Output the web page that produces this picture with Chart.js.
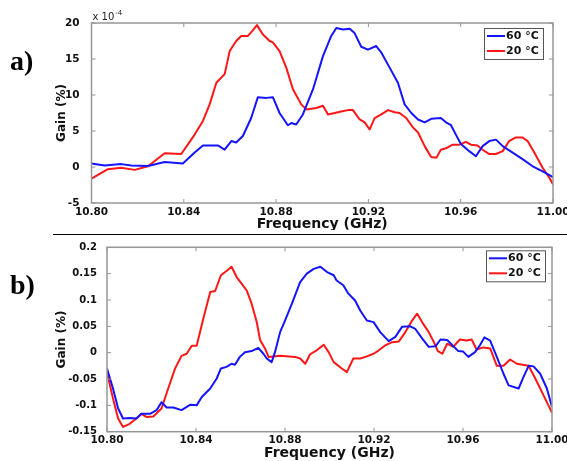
<!DOCTYPE html>
<html><head><meta charset="utf-8">
<script src="https://cdn.jsdelivr.net/npm/chart.js@4.4.0/dist/chart.umd.min.js"></script>
<style>
html,body{margin:0;padding:0;background:#fff;}
#wrap{position:relative;width:567px;height:461px;overflow:hidden;background:#fff;}
canvas{position:absolute;left:0;}
#rule{position:absolute;left:53px;top:234px;width:514px;height:0;border-top:1.5px solid #000;}
.lab{position:absolute;font:bold 28px "Liberation Serif","Times New Roman",serif;line-height:28px;color:#000;}
</style></head>
<body><div id="wrap">
<canvas id="c1" width="567" height="230" style="top:0"></canvas>
<canvas id="c2" width="567" height="230" style="top:231px"></canvas>
<div id="rule"></div>
<div class="lab" style="left:10px;top:47px">a)</div>
<div class="lab" style="left:10px;top:271px">b)</div>
</div>
<script>
// ---- tick labels ----
const freqTicks = [10.80, 10.84, 10.88, 10.92, 10.96, 11.00];
const gainTicksA = [-5, 0, 5, 10, 15, 20];
const gainTicksB = [-0.15, -0.1, -0.05, 0, 0.05, 0.1, 0.15, 0.2];
const seriesLabels = ['60 \u00B0C', '20 \u00B0C'];
const axisTitleX = 'Frequency (GHz)';
const axisTitleY = 'Gain (%)';

// ---- panel a) : 60 °C ----
const freqA60 = [10.800,10.8057,10.8129,10.8172,10.8245,10.8317,10.8396,10.8447,10.8483,10.8548,10.8577,10.8606,10.8627,10.8656,10.8692,10.8721,10.8757,10.8786,10.8815,10.8851,10.8866,10.8887,10.8916,10.8960,10.9003,10.9039,10.9061,10.9090,10.9119,10.9140,10.9169,10.9198,10.9234,10.9256,10.9292,10.9328,10.9357,10.9386,10.9415,10.9444,10.9472,10.9514,10.9536,10.9558,10.9579,10.9601,10.9637,10.9666,10.9695,10.9724,10.9753,10.9782,10.9825,10.9868,10.9912,10.9955,11.000];
const gainA60 = [0.5,0.2,0.4,0.2,0.15,0.7,0.5,2.0,3.0,3.0,2.4,3.6,3.4,4.3,6.8,9.7,9.6,9.7,7.5,5.8,6.1,5.9,7.3,10.8,15.4,18.2,19.3,19.1,19.2,18.6,16.7,16.3,16.8,15.9,13.8,11.7,8.7,7.5,6.6,6.2,6.7,6.8,6.2,5.8,4.5,3.2,2.2,1.5,2.9,3.6,3.8,2.9,2.0,1.1,0.1,-0.6,-1.4];
// ---- panel a) : 20 °C ----
const freqA20 = [10.800,10.8071,10.8129,10.8187,10.8245,10.8317,10.8389,10.8447,10.8483,10.8512,10.8541,10.8577,10.8599,10.8627,10.8649,10.8678,10.8700,10.8717,10.8743,10.8772,10.8786,10.8815,10.8844,10.8873,10.8909,10.8931,10.8974,10.9003,10.9025,10.9054,10.9082,10.9111,10.9133,10.9162,10.9184,10.9205,10.9227,10.9256,10.9285,10.9314,10.9335,10.9364,10.9393,10.9415,10.9444,10.9472,10.9495,10.9514,10.9536,10.9565,10.9594,10.9623,10.9644,10.9673,10.9695,10.9724,10.9753,10.9782,10.9810,10.9839,10.9868,10.9890,10.9919,10.9955,10.9984,11.000];
const gainA20 = [-1.6,-0.3,-0.1,-0.4,0.1,1.9,1.8,4.5,6.4,8.7,11.7,12.9,16.1,17.5,18.2,18.2,19.0,19.7,18.4,17.5,17.3,16.1,13.8,10.8,8.7,8.0,8.2,8.5,7.3,7.5,7.7,7.9,7.9,6.6,6.2,5.2,6.8,7.3,7.9,7.6,7.5,6.8,5.5,4.8,2.9,1.4,1.3,2.4,2.6,3.1,3.1,3.5,3.1,3.0,2.4,1.8,1.8,2.2,3.6,4.1,4.1,3.6,2.0,-0.1,-1.5,-2.4];

// ---- panel b) : 60 °C ----
const freqB60 = [10.800,10.8027,10.8050,10.8072,10.8102,10.8132,10.8155,10.8193,10.8223,10.8245,10.8268,10.8298,10.8335,10.8373,10.8403,10.8426,10.8464,10.8493,10.8512,10.8537,10.8560,10.8575,10.8597,10.8620,10.8650,10.8680,10.8703,10.8718,10.8740,10.8755,10.8778,10.8800,10.8831,10.8868,10.8898,10.8929,10.8959,10.8989,10.9019,10.9032,10.9062,10.9085,10.9115,10.9138,10.9168,10.9198,10.9228,10.9266,10.9296,10.9326,10.9363,10.9386,10.9416,10.9446,10.9476,10.9499,10.9529,10.9579,10.9601,10.9624,10.9654,10.9676,10.9696,10.9722,10.9752,10.9782,10.9805,10.9850,10.9872,10.9895,10.9917,10.9947,10.9977,11.000];
const gainB60 = [-0.030,-0.068,-0.106,-0.125,-0.124,-0.125,-0.116,-0.116,-0.109,-0.094,-0.104,-0.104,-0.109,-0.099,-0.100,-0.084,-0.068,-0.049,-0.030,-0.027,-0.021,-0.023,-0.008,0.001,0.003,0.009,-0.002,-0.011,-0.018,0.001,0.039,0.061,0.093,0.134,0.150,0.159,0.163,0.153,0.147,0.137,0.128,0.112,0.099,0.080,0.061,0.058,0.039,0.022,0.030,0.049,0.050,0.045,0.027,0.011,0.012,0.025,0.024,0.003,0.002,-0.008,0.001,0.014,0.029,0.023,-0.008,-0.040,-0.062,-0.068,-0.046,-0.025,-0.026,-0.040,-0.068,-0.103];
// ---- panel b) : 20 °C ----
const freqB20 = [10.800,10.8027,10.8050,10.8072,10.8102,10.8132,10.8155,10.8177,10.8208,10.8245,10.8275,10.8306,10.8335,10.8358,10.8381,10.8403,10.8433,10.8464,10.8486,10.8512,10.8537,10.8560,10.8582,10.8605,10.8628,10.8650,10.8673,10.8688,10.8710,10.8726,10.8778,10.8846,10.8868,10.8891,10.8913,10.8944,10.8974,10.8996,10.9019,10.9055,10.9078,10.9107,10.9138,10.9168,10.9198,10.9220,10.9251,10.9281,10.9311,10.9341,10.9371,10.9394,10.9416,10.9446,10.9469,10.9487,10.9507,10.9529,10.9556,10.9586,10.9616,10.9639,10.9661,10.9692,10.9722,10.9752,10.9782,10.9812,10.9842,10.9895,10.9925,10.9962,11.000];
const gainB20 = [-0.037,-0.087,-0.125,-0.141,-0.135,-0.125,-0.116,-0.122,-0.121,-0.106,-0.068,-0.030,-0.006,-0.002,0.013,0.013,0.065,0.115,0.117,0.147,0.155,0.163,0.144,0.131,0.118,0.093,0.058,0.024,0.008,-0.008,-0.006,-0.008,-0.011,-0.021,-0.003,0.005,0.015,0.001,-0.018,-0.030,-0.037,-0.011,-0.011,-0.007,-0.002,0.004,0.014,0.020,0.021,0.039,0.061,0.074,0.058,0.039,0.020,0.003,-0.002,0.017,0.011,0.025,0.023,0.025,0.006,0.010,0.008,-0.025,-0.025,-0.013,-0.021,-0.025,-0.049,-0.081,-0.114];

const FONT = '"DejaVu Sans", Arial, sans-serif';
const COL60 = 'rgb(20,20,255)';
const COL20 = 'rgb(255,22,22)';
const FRAME = 'rgb(150,150,150)';

function pts(f, g) { return f.map((x, i) => ({x: x, y: g[i]})); }

const framePlugin = {
  id: 'frame',
  afterDatasetsDraw(chart, args, opts) {
    const ctx = chart.ctx, a = chart.chartArea;
    const xs = chart.scales.x, ys = chart.scales.y;
    ctx.save();
    ctx.strokeStyle = FRAME; ctx.lineWidth = 1.5;
    ctx.strokeRect(a.left, a.top, a.right - a.left, a.bottom - a.top);
    ctx.lineWidth = 1;
    ctx.beginPath();
    xs.ticks.forEach(t => {
      const p = xs.getPixelForValue(t.value);
      ctx.moveTo(p, a.top); ctx.lineTo(p, a.top + 4);
      ctx.moveTo(p, a.bottom); ctx.lineTo(p, a.bottom - 4);
    });
    ys.ticks.forEach(t => {
      const p = ys.getPixelForValue(t.value);
      ctx.moveTo(a.left, p); ctx.lineTo(a.left + 4, p);
      ctx.moveTo(a.right, p); ctx.lineTo(a.right - 4, p);
    });
    ctx.stroke();
    // legend box (inside plot, top-right)
    const w = 59, h = 31;
    const bx = a.right - opts.insetR - w, by = a.top + opts.insetT;
    ctx.fillStyle = '#fff';
    ctx.fillRect(bx, by, w, h);
    ctx.strokeStyle = '#555'; ctx.lineWidth = 1;
    ctx.strokeRect(bx + 0.5, by + 0.5, w, h);
    ctx.font = 'bold 11px ' + FONT;
    ctx.textBaseline = 'middle'; ctx.textAlign = 'left';
    chart.data.datasets.forEach((ds, i) => {
      const yy = by + 8 + i * 15;
      ctx.strokeStyle = ds.borderColor; ctx.lineWidth = 2;
      ctx.beginPath(); ctx.moveTo(bx + 3, yy); ctx.lineTo(bx + 21, yy); ctx.stroke();
      ctx.fillStyle = '#111';
      ctx.fillText(ds.label, bx + 22, yy);
    });
    if (opts.exponent) {
      ctx.fillStyle = '#222';
      ctx.textBaseline = 'alphabetic';
      ctx.font = '10px ' + FONT;
      ctx.fillText('x 10', a.left + 1, a.top - 3);
      const wx = ctx.measureText('x 10').width;
      ctx.font = '7px ' + FONT;
      ctx.fillText('-4', a.left + 1 + wx + 1, a.top - 8);
    }
    ctx.restore();
  }
};

function makeChart(id, c) {
  return new Chart(document.getElementById(id), {
    type: 'line',
    data: {
      datasets: [
        {label: seriesLabels[0], data: pts(c.f60, c.g60), borderColor: COL60, borderWidth: 2, pointRadius: 0, tension: 0, borderJoinStyle: 'round', fill: false},
        {label: seriesLabels[1], data: pts(c.f20, c.g20), borderColor: COL20, borderWidth: 2, pointRadius: 0, tension: 0, borderJoinStyle: 'round', fill: false}
      ]
    },
    options: {
      responsive: false, animation: false, devicePixelRatio: 1,
      layout: {padding: {left: 55, right: c.padR, top: c.padT, bottom: 0}},
      plugins: {
        legend: {display: false}, tooltip: {enabled: false},
        frame: {insetR: c.legR, insetT: c.legT, exponent: c.exponent}
      },
      scales: {
        x: {
          type: 'linear', min: 10.8, max: 11.0,
          grid: {display: false}, border: {display: false},
          afterBuildTicks: s => { s.ticks = freqTicks.map(v => ({value: v})); },
          afterFit: s => { s.height = c.xH; s.paddingLeft = 0; s.paddingRight = 0; },
          ticks: {autoSkip: false, maxRotation: 0, padding: c.xPad, color: '#111',
                  font: {family: FONT, size: 10.5, weight: 'bold'},
                  callback: v => Number(v).toFixed(2)},
          title: {display: true, text: axisTitleX, color: '#111', padding: {top: 0, bottom: c.tPad},
                  font: {family: FONT, size: 14, weight: 'bold'}}
        },
        y: {
          type: 'linear', min: c.yMin, max: c.yMax,
          grid: {display: false}, border: {display: false},
          afterBuildTicks: s => { s.ticks = c.yTicks.map(v => ({value: v})); },
          afterFit: s => { s.width = c.yW; s.paddingTop = 0; s.paddingBottom = 0; },
          ticks: {autoSkip: false, padding: c.yPad, color: '#111',
                  font: {family: FONT, size: c.yFont, weight: 'bold'},
                  callback: v => String(+v.toFixed(2))},
          title: {display: true, text: axisTitleY, color: '#111', padding: {top: 0, bottom: 0},
                  font: {family: FONT, size: 12, weight: 'bold'}}
        }
      }
    },
    plugins: [framePlugin]
  });
}

makeChart('c1', {f60: freqA60, g60: gainA60, f20: freqA20, g20: gainA20,
  yMin: -5, yMax: 20, yTicks: gainTicksA, padR: 14, padT: 23, xH: 27, yW: 36.5,
  xPad: -5, tPad: -3, yPad: 4, yFont: 10.5, legR: 10, legT: 5, exponent: true});
makeChart('c2', {f60: freqB60, g60: gainB60, f20: freqB20, g20: gainB20,
  yMin: -0.15, yMax: 0.2, yTicks: gainTicksB, padR: 15, padT: 16.3, xH: 29.3, yW: 52,
  xPad: -6, tPad: -1, yPad: 2, yFont: 10, legR: 7, legT: 3, exponent: false});
</script>
</body></html>
